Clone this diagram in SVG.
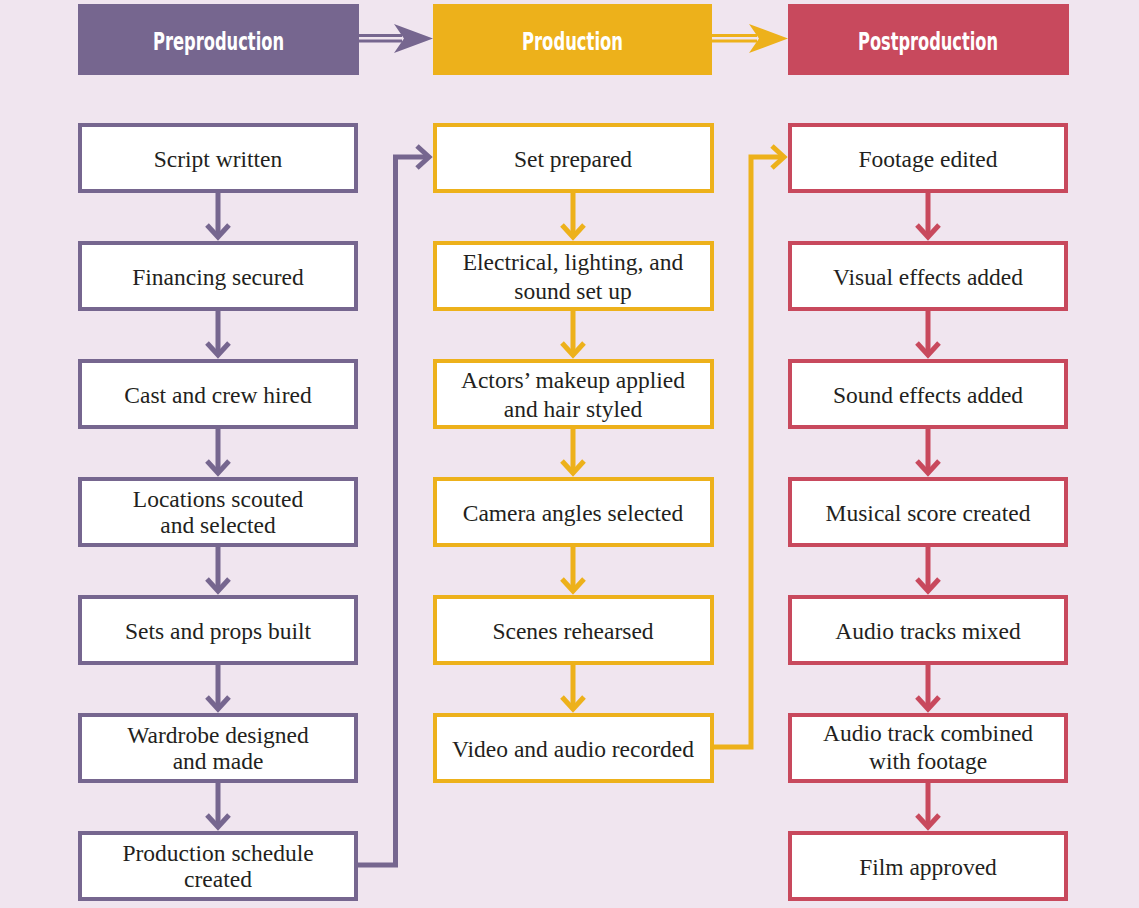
<svg xmlns="http://www.w3.org/2000/svg" width="1139" height="908" viewBox="0 0 1139 908">
<style>
.bg{fill:#F0E5EF}
.hdr text{font-family:"DejaVu Sans Condensed","Liberation Sans Narrow","Liberation Sans",sans-serif;font-weight:bold;font-size:25px;fill:#FFFFFF;text-anchor:middle}
.box{fill:#FFFFFF;stroke-width:4}
.p .box{stroke:#76668F}
.y .box{stroke:#EDB11B}
.r .box{stroke:#C8495D}
.node text{font-family:"Liberation Serif","Times New Roman",serif;font-size:23.5px;fill:#231F20;text-anchor:middle}
.ln{fill:none;stroke-width:5;stroke-linejoin:miter}
.lp{stroke:#76668F}
.ly{stroke:#EDB11B}
.lr{stroke:#C8495D}
.dbl{fill:none;stroke-width:3}
</style>
<defs>
<marker id="aP" markerUnits="userSpaceOnUse" viewBox="-20 -16 24 32" refX="0" refY="0" markerWidth="24" markerHeight="32" orient="auto" overflow="visible"><path d="M-12,-11 L0,0 L-12,11" fill="none" stroke="#76668F" stroke-width="5"/></marker>
<marker id="aY" markerUnits="userSpaceOnUse" viewBox="-20 -16 24 32" refX="0" refY="0" markerWidth="24" markerHeight="32" orient="auto" overflow="visible"><path d="M-12,-11 L0,0 L-12,11" fill="none" stroke="#EDB11B" stroke-width="5"/></marker>
<marker id="aR" markerUnits="userSpaceOnUse" viewBox="-20 -16 24 32" refX="0" refY="0" markerWidth="24" markerHeight="32" orient="auto" overflow="visible"><path d="M-12,-11 L0,0 L-12,11" fill="none" stroke="#C8495D" stroke-width="5"/></marker>
</defs>
<rect class="bg" x="0" y="0" width="1139" height="908"/>

<g id="hdr-pre" class="hdr"><rect x="78" y="4" width="281" height="71" fill="#76668F"/><text x="218.5" y="50" textLength="131" lengthAdjust="spacingAndGlyphs">Preproduction</text></g>
<g id="hdr-prod" class="hdr"><rect x="433" y="4" width="279" height="71" fill="#EDB11B"/><text x="572.5" y="50" textLength="101" lengthAdjust="spacingAndGlyphs">Production</text></g>
<g id="hdr-post" class="hdr"><rect x="788" y="4" width="281" height="71" fill="#C8495D"/><text x="928" y="50" textLength="140" lengthAdjust="spacingAndGlyphs">Postproduction</text></g>

<g id="connectors">
<line class="dbl" x1="359" y1="35.5" x2="402" y2="35.5" stroke="#76668F"/>
<line class="dbl" x1="359" y1="41" x2="402" y2="41" stroke="#76668F"/>
<polygon points="394,24 433,38.5 394,53 404,38.5" fill="#76668F"/>
<line class="dbl" x1="712" y1="35.5" x2="757" y2="35.5" stroke="#EDB11B"/>
<line class="dbl" x1="712" y1="41" x2="757" y2="41" stroke="#EDB11B"/>
<polygon points="749,24 788,38.5 749,53 759,38.5" fill="#EDB11B"/>

<g class="ln lp">
<line x1="218" y1="193" x2="218" y2="237" marker-end="url(#aP)"/>
<line x1="218" y1="311" x2="218" y2="355" marker-end="url(#aP)"/>
<line x1="218" y1="429" x2="218" y2="473" marker-end="url(#aP)"/>
<line x1="218" y1="547" x2="218" y2="591" marker-end="url(#aP)"/>
<line x1="218" y1="665" x2="218" y2="709" marker-end="url(#aP)"/>
<line x1="218" y1="783" x2="218" y2="827" marker-end="url(#aP)"/>
<polyline points="358,865 395.5,865 395.5,157 429,157" marker-end="url(#aP)"/>
</g>
<g class="ln ly">
<line x1="573" y1="193" x2="573" y2="237" marker-end="url(#aY)"/>
<line x1="573" y1="311" x2="573" y2="355" marker-end="url(#aY)"/>
<line x1="573" y1="429" x2="573" y2="473" marker-end="url(#aY)"/>
<line x1="573" y1="547" x2="573" y2="591" marker-end="url(#aY)"/>
<line x1="573" y1="665" x2="573" y2="709" marker-end="url(#aY)"/>
<polyline points="713,747 751,747 751,157 784,157" marker-end="url(#aY)"/>
</g>
<g class="ln lr">
<line x1="928" y1="193" x2="928" y2="237" marker-end="url(#aR)"/>
<line x1="928" y1="311" x2="928" y2="355" marker-end="url(#aR)"/>
<line x1="928" y1="429" x2="928" y2="473" marker-end="url(#aR)"/>
<line x1="928" y1="547" x2="928" y2="591" marker-end="url(#aR)"/>
<line x1="928" y1="665" x2="928" y2="709" marker-end="url(#aR)"/>
<line x1="928" y1="783" x2="928" y2="827" marker-end="url(#aR)"/>
</g>
</g>

<g class="p">
<g id="n-script" class="node"><rect class="box" x="80" y="125" width="276" height="66"/><text x="218" y="167">Script written</text></g>
<g id="n-financing" class="node"><rect class="box" x="80" y="243" width="276" height="66"/><text x="218" y="285">Financing secured</text></g>
<g id="n-cast" class="node"><rect class="box" x="80" y="361" width="276" height="66"/><text x="218" y="403">Cast and crew hired</text></g>
<g id="n-locations" class="node"><rect class="box" x="80" y="479" width="276" height="66"/><text x="218" y="507">Locations scouted</text><text x="218" y="533">and selected</text></g>
<g id="n-sets" class="node"><rect class="box" x="80" y="597" width="276" height="66"/><text x="218" y="639">Sets and props built</text></g>
<g id="n-wardrobe" class="node"><rect class="box" x="80" y="715" width="276" height="66"/><text x="218" y="743">Wardrobe designed</text><text x="218" y="769">and made</text></g>
<g id="n-schedule" class="node"><rect class="box" x="80" y="833" width="276" height="66"/><text x="218" y="861">Production schedule</text><text x="218" y="887">created</text></g>
</g>

<g class="y">
<g id="n-set" class="node"><rect class="box" x="435" y="125" width="277" height="66"/><text x="573" y="167">Set prepared</text></g>
<g id="n-electrical" class="node"><rect class="box" x="435" y="243" width="277" height="66"/><text x="573" y="270">Electrical, lighting, and</text><text x="573" y="299">sound set up</text></g>
<g id="n-makeup" class="node"><rect class="box" x="435" y="361" width="277" height="66"/><text x="573" y="388">Actors’ makeup applied</text><text x="573" y="417">and hair styled</text></g>
<g id="n-camera" class="node"><rect class="box" x="435" y="479" width="277" height="66"/><text x="573" y="521">Camera angles selected</text></g>
<g id="n-rehearsed" class="node"><rect class="box" x="435" y="597" width="277" height="66"/><text x="573" y="639">Scenes rehearsed</text></g>
<g id="n-recorded" class="node"><rect class="box" x="435" y="715" width="277" height="66"/><text x="573" y="757">Video and audio recorded</text></g>
</g>

<g class="r">
<g id="n-edited" class="node"><rect class="box" x="790" y="125" width="276" height="66"/><text x="928" y="167">Footage edited</text></g>
<g id="n-visual" class="node"><rect class="box" x="790" y="243" width="276" height="66"/><text x="928" y="285">Visual effects added</text></g>
<g id="n-sound" class="node"><rect class="box" x="790" y="361" width="276" height="66"/><text x="928" y="403">Sound effects added</text></g>
<g id="n-score" class="node"><rect class="box" x="790" y="479" width="276" height="66"/><text x="928" y="521">Musical score created</text></g>
<g id="n-mixed" class="node"><rect class="box" x="790" y="597" width="276" height="66"/><text x="928" y="639">Audio tracks mixed</text></g>
<g id="n-combined" class="node"><rect class="box" x="790" y="715" width="276" height="66"/><text x="928" y="741">Audio track combined</text><text x="928" y="769">with footage</text></g>
<g id="n-approved" class="node"><rect class="box" x="790" y="833" width="276" height="66"/><text x="928" y="875">Film approved</text></g>
</g>
</svg>
